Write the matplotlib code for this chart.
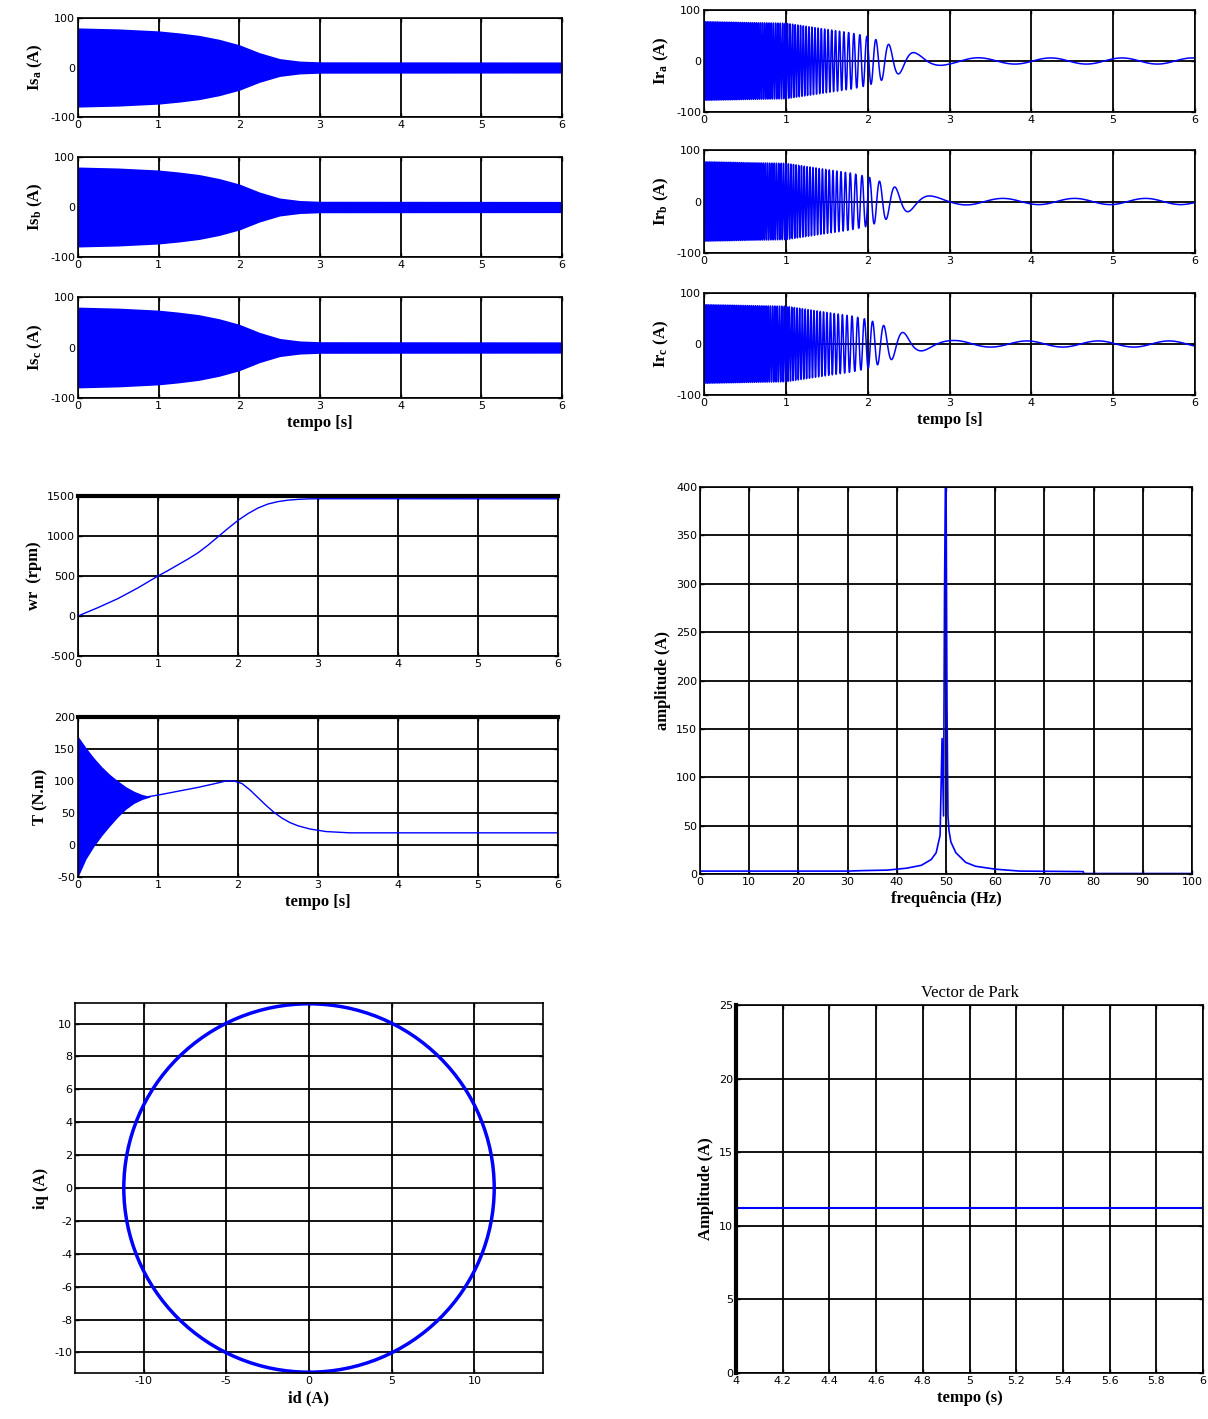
import numpy as np
import matplotlib.pyplot as plt
from matplotlib.patches import Circle

plt.rcParams['mathtext.fontset'] = 'custom'
plt.rcParams['mathtext.bf'] = 'Liberation Serif:bold'
plt.rcParams['mathtext.rm'] = 'Liberation Serif:bold'
plt.rcParams['axes.unicode_minus'] = False
plt.rcParams['path.simplify'] = False

W, H = 1208, 1419
AZUL = '#0000ff'

# envoltoria das correntes do estator
t_is = [0, 0.5, 1.0, 1.25, 1.5, 1.75, 2.0, 2.25, 2.5, 2.75, 3.0, 6.0]
env_is = [80, 78, 74, 70, 65, 57, 46, 30, 18, 13, 11.5, 11.2]

# velocidade do rotor (rpm)
t_wr = [0, 0.25, 0.5, 0.75, 1.0, 1.125, 1.25, 1.375, 1.5, 1.625, 1.75, 1.875, 2.0, 2.125,
        2.25, 2.375, 2.5, 2.625, 2.75, 2.875, 3.0, 3.5, 6.0]
wr = [0, 105, 218, 352, 500, 568, 640, 712, 790, 885, 990, 1095, 1195, 1280,
      1350, 1400, 1430, 1448, 1458, 1464, 1466, 1466, 1465]

# envoltoria das correntes do rotor
t_ir = [0, 1.0, 1.5, 1.8, 2.0, 2.2, 2.4, 2.6, 2.8, 3.0, 3.5, 6.0]
env_ir = [77, 74, 62, 55, 48, 36, 24, 15, 10, 7, 6, 6]
fase_ir = [0, -2*np.pi/3, 2*np.pi/3]

# binario: envoltoria do arranque e valor medio
t_osc = [0, 0.1, 0.2, 0.3, 0.4, 0.5, 0.6, 0.7, 0.8, 0.9]
T_sup = [170, 152, 136, 122, 110, 100, 91, 84, 79, 76]
T_inf = [-50, -22, -2, 15, 30, 44, 56, 65, 71, 75]
t_T = [0.85, 1.0, 1.25, 1.5, 1.75, 1.85, 1.95, 2.05, 2.15, 2.25, 2.35, 2.45, 2.55,
       2.65, 2.75, 2.9, 3.1, 3.4, 6.0]
T_med = [75, 78, 84, 90, 97, 100, 100, 96, 86, 74, 62, 51, 42, 35, 30, 25, 21, 19, 19]

# espectro da corrente
freq = [0, 30, 33, 38, 42, 45, 47, 48, 48.8, 49.2, 49.5, 49.7, 49.9, 50.0, 50.2, 50.4, 50.6,
        51, 52, 54, 56, 60, 65, 77.9, 78, 100]
amp = [3, 3, 3.5, 4, 6, 9, 15, 22, 40, 140, 60, 290, 420, 420, 175, 60, 45,
       33, 22, 12, 8, 5, 3, 2.5, 0.5, 0.5]

# vector de Park
raio_park = 11.2
t_park = [4, 6]
amp_park = [11.2, 11.2]


def pos(x0, y0, x1, y1):
    return [x0 / W, 1 - y1 / H, (x1 - x0) / W, (y1 - y0) / H]


def estilo(ax):
    ax.grid(True, color='k', lw=1.3)
    ax.set_axisbelow(True)
    ax.tick_params(direction='in', top=True, right=True, length=3, width=1,
                   labelsize=8, pad=2)
    for s in ax.spines.values():
        s.set_linewidth(1.2)


def rotulo(ax, txt, eixo='y'):
    kw = dict(family='Liberation Serif', fontweight='bold', fontsize=12)
    if eixo == 'y':
        ax.set_ylabel(txt, labelpad=4, **kw)
    else:
        ax.set_xlabel(txt, labelpad=3, **kw)


fig = plt.figure(figsize=(W / 100, H / 100), dpi=100)

# correntes do estator
t = np.linspace(0, 6, 3000)
env = np.interp(t, t_is, env_is)
caixas_is = [(18, 117), (157, 257), (297, 398)]
for i, (y0, y1) in enumerate(caixas_is):
    ax = fig.add_axes(pos(78, y0, 562, y1))
    ax.fill_between(t, -env, env, color=AZUL, lw=0)
    ax.set_xlim(0, 6)
    ax.set_ylim(-100, 100)
    ax.set_yticks([-100, 0, 100])
    estilo(ax)
    rotulo(ax, r'$\mathbf{Is_%s}$ (A)' % 'abc'[i])
    if i == 2:
        rotulo(ax, 'tempo [s]', 'x')

# correntes do rotor
tr = np.linspace(0, 6, 60000)
f_r = 50 * (1 - np.interp(tr, t_wr, wr) / 1500)
ang = 2 * np.pi * np.cumsum(f_r) * (tr[1] - tr[0])
env_r = np.interp(tr, t_ir, env_ir)
caixas_ir = [(10, 112), (150, 253), (293, 395)]
for i, (y0, y1) in enumerate(caixas_ir):
    ax = fig.add_axes(pos(704, y0, 1195, y1))
    ax.plot(tr, env_r * np.cos(ang + fase_ir[i]), color=AZUL, lw=1.1)
    ax.set_xlim(0, 6)
    ax.set_ylim(-100, 100)
    ax.set_yticks([-100, 0, 100])
    estilo(ax)
    rotulo(ax, r'$\mathbf{Ir_%s}$ (A)' % 'abc'[i])
    if i == 2:
        rotulo(ax, 'tempo [s]', 'x')

# velocidade
ax = fig.add_axes(pos(78, 496, 558, 656))
ax.plot(t_wr, wr, color=AZUL, lw=1)
ax.set_xlim(0, 6)
ax.set_ylim(-500, 1500)
ax.set_yticks([-500, 0, 500, 1000, 1500])
estilo(ax)
ax.spines['top'].set_linewidth(3)
rotulo(ax, 'wr  (rpm)')

# binario
ax = fig.add_axes(pos(78, 717, 558, 877))
ax.fill_between(t_osc, T_inf, T_sup, color=AZUL, lw=0)
ax.plot(t_T, T_med, color=AZUL, lw=1)
ax.set_xlim(0, 6)
ax.set_ylim(-50, 200)
ax.set_yticks([-50, 0, 50, 100, 150, 200])
estilo(ax)
ax.spines['top'].set_linewidth(3)
rotulo(ax, 'T (N.m)')
rotulo(ax, 'tempo [s]', 'x')

# espectro
ax = fig.add_axes(pos(700, 487, 1192, 874))
ax.plot(freq, amp, color=AZUL, lw=1.2)
ax.set_xlim(0, 100)
ax.set_ylim(0, 400)
ax.set_xticks(np.arange(0, 101, 10))
ax.set_yticks(np.arange(0, 401, 50))
estilo(ax)
rotulo(ax, 'amplitude (A)')
rotulo(ax, 'frequência (Hz)', 'x')

# id-iq
ax = fig.add_axes(pos(75, 1003, 543, 1373))
ax.add_patch(Circle((0, 0), raio_park, fill=False, ec=AZUL, lw=2.5, clip_on=False))
ax.set_xlim(-14.15, 14.15)
ax.set_ylim(-11.25, 11.25)
ax.set_xticks([-10, -5, 0, 5, 10])
ax.set_yticks(np.arange(-10, 11, 2))
estilo(ax)
rotulo(ax, 'iq (A)')
rotulo(ax, 'id (A)', 'x')

# amplitude do vector de Park
ax = fig.add_axes(pos(736, 1005, 1203, 1373))
ax.plot(t_park, amp_park, color=AZUL, lw=1.5)
ax.set_xlim(4, 6)
ax.set_ylim(0, 25)
ax.set_xticks(np.round(np.arange(4, 6.01, 0.2), 1))
ax.set_xticklabels(['4', '4.2', '4.4', '4.6', '4.8', '5', '5.2', '5.4', '5.6', '5.8', '6'])
ax.set_yticks([0, 5, 10, 15, 20, 25])
estilo(ax)
ax.spines['left'].set_linewidth(3)
ax.set_title('Vector de Park', family='Liberation Serif', fontsize=12, pad=6)
rotulo(ax, 'Amplitude (A)')
rotulo(ax, 'tempo (s)', 'x')

fig.savefig('out.png', dpi=100)
